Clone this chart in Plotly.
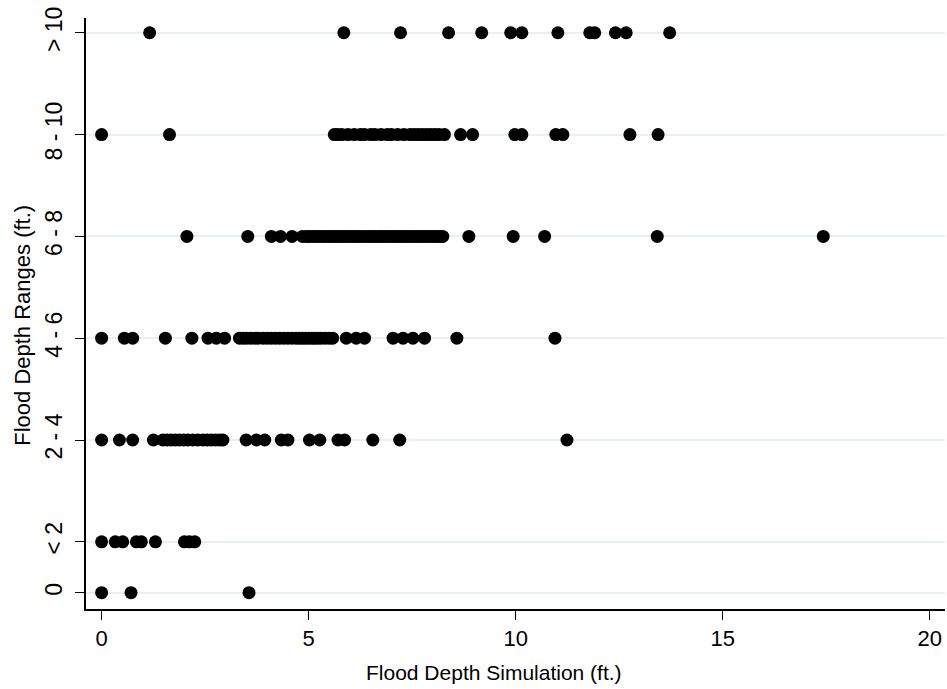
import plotly.graph_objects as go

# Category positions and labels on the y axis
range_pos = [0, 1, 3, 5, 7, 9, 11]
range_labels = ["0", "< 2", "2 - 4", "4 - 6", "6 - 8", "8 - 10", "> 10"]

# Simulated flood depth (ft.) for each observed depth range
sim_0 = [0.0, 0.71, 3.56]
sim_lt2 = [0.0, 0.33, 0.51, 0.84, 0.96, 1.30, 2.0, 2.12, 2.25]
sim_2_4 = [0.0, 0.43, 0.75, 1.25, 1.48, 1.58, 1.68, 1.78, 1.88, 1.98, 2.08, 2.2,
           2.32, 2.45, 2.55, 2.65, 2.75, 2.85, 2.93, 3.49, 3.74, 3.94, 4.34, 4.50,
           5.02, 5.27, 5.71, 5.87, 6.55, 7.2, 11.24]
sim_4_6 = [0.0, 0.55, 0.75, 1.54, 2.18, 2.57, 2.77, 2.97, 3.33, 3.42, 3.5, 3.6,
           3.7, 3.78, 3.9, 4.0, 4.1, 4.2, 4.3, 4.4, 4.5, 4.6, 4.7, 4.78, 4.85,
           4.92, 5.0, 5.08, 5.15, 5.22, 5.3, 5.4, 5.5, 5.58, 5.91, 6.15, 6.35,
           7.04, 7.28, 7.52, 7.80, 8.58, 10.95]
sim_6_8 = [2.06, 3.53, 4.10, 4.32, 4.60, 4.85, 4.95, 5.02, 5.1, 5.18, 5.25, 5.33,
           5.4, 5.48, 5.55, 5.62, 5.7, 5.78, 5.85, 5.92, 6.0, 6.08, 6.15, 6.22,
           6.3, 6.38, 6.45, 6.52, 6.6, 6.68, 6.75, 6.82, 6.9, 6.98, 7.05, 7.12,
           7.2, 7.28, 7.35, 7.42, 7.5, 7.58, 7.65, 7.72, 7.8, 7.88, 7.95, 8.02,
           8.1, 8.17, 8.24, 8.87, 9.94, 10.70, 13.42, 17.43]
sim_8_10 = [0.0, 1.64, 5.62, 5.7, 5.8, 5.95, 6.1, 6.25, 6.35, 6.5, 6.6, 6.75,
            6.9, 7.0, 7.15, 7.3, 7.45, 7.55, 7.65, 7.75, 7.85, 7.95, 8.05, 8.15,
            8.28, 8.67, 8.96, 9.98, 10.15, 10.97, 11.14, 12.76, 13.44]
sim_gt10 = [1.16, 5.85, 7.22, 8.38, 9.18, 9.88, 10.15, 11.02, 11.79, 11.91,
            12.41, 12.67, 13.72]

groups = [sim_0, sim_lt2, sim_2_4, sim_4_6, sim_6_8, sim_8_10, sim_gt10]

xs, ys = [], []
for pos, vals in zip(range_pos, groups):
    xs.extend(vals)
    ys.extend([pos] * len(vals))

fig = go.Figure(go.Scatter(
    x=xs, y=ys, mode="markers",
    marker=dict(color="black", size=13, line=dict(width=0)),
    showlegend=False,
))

font_family = "Liberation Sans, Arial, sans-serif"

fig.update_layout(
    width=947, height=689,
    margin=dict(l=86, r=2, t=18, b=80),
    paper_bgcolor="white", plot_bgcolor="white",
    font=dict(family=font_family, color="black", size=21),
    annotations=[
        dict(text="Flood Depth Simulation (ft.)", xref="paper", yref="paper",
             x=0.475, y=-0.108, xanchor="center", yanchor="middle",
             showarrow=False, font=dict(size=21)),
        dict(text="Flood Depth Ranges (ft.)", xref="paper", yref="paper",
             x=-0.074, y=0.48, xanchor="center", yanchor="middle",
             textangle=-90, showarrow=False, font=dict(size=22)),
    ],
)
fig.update_xaxes(
    range=[-0.377, 20.37],
    tickvals=[0, 5, 10, 15, 20],
    showgrid=False, zeroline=False,
    showline=True, linecolor="black", linewidth=1.5,
    ticks="outside", ticklen=9, tickwidth=1.3, tickcolor="black",
    tickfont=dict(size=22),
)
fig.update_yaxes(
    range=[-0.32, 11.29],
    tickvals=range_pos, ticktext=range_labels,
    tickangle=-90,
    showgrid=True, gridcolor="#E8F0F2", gridwidth=1.5,
    zeroline=False,
    showline=True, linecolor="black", linewidth=1.5,
    ticks="outside", ticklen=9, tickwidth=1.3, tickcolor="black",
    tickfont=dict(size=23), ticklabelstandoff=4,
)

fig.write_html("out.html")
